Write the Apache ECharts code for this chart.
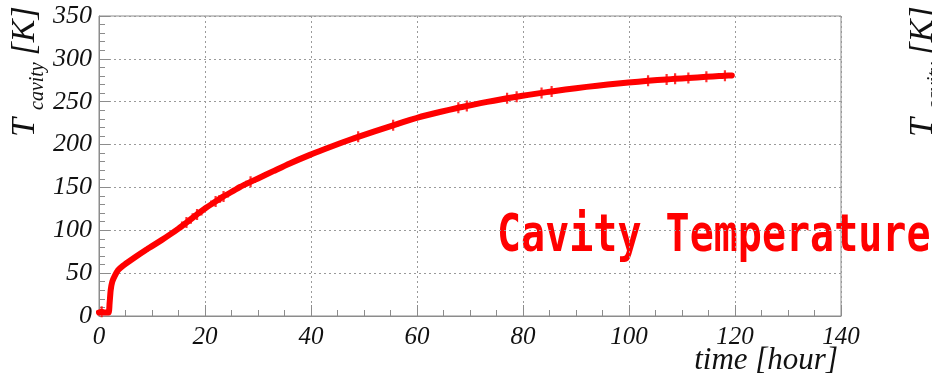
<!DOCTYPE html>
<html>
<head>
<meta charset="utf-8">
<script src="https://cdn.jsdelivr.net/npm/echarts@6/dist/echarts.min.js"></script>
<style>
  html, body { margin: 0; padding: 0; background: #fff; }
  #chart { width: 932px; height: 376px; }
</style>
</head>
<body>
<div id="chart"></div>
<script>
// Cool-down / warm-up record of the cavity
const timeHours = [0, 0.5, 1, 1.8, 2.0, 2.2, 2.5, 3, 3.6, 4.5, 5.5, 7, 8.7, 10, 11.8, 13.5, 15, 16.5, 18.5, 20,
  22, 23.5, 25.5, 26.6, 28.6, 30, 32.9, 36, 39.8, 42.5, 45.5, 48.9, 52, 55.5, 57.5, 59.9, 62, 64.3, 67.8, 69.4,
  72, 74.5, 77, 78.8, 81, 83.5, 85.4, 88, 92, 96, 99.9, 103.6, 107.1, 108.7, 111.2, 114.6, 117, 118.1, 119.4];
const tempK = [4, 5, 4, 4, 15, 30, 40, 47, 53.5, 58.5, 63, 69.5, 76.5, 81.5, 88.5, 95.5, 102, 109, 118.5, 125.5,
  133.5, 139.5, 146.5, 150.5, 156.5, 160.5, 169, 178, 188, 194.5, 201.5, 209, 215.5, 222.5, 226.5, 231, 234.5, 238, 243, 245,
  248.3, 251.2, 254, 255.8, 258, 260.3, 262, 264.2, 267.3, 270, 272.4, 274.4, 276, 276.7, 277.7, 279, 279.9, 280.3, 280.7];
// indices of the samples drawn with a cross marker
const markerIdx = [1, 17, 18, 20, 21, 24, 31, 33, 38, 39, 42, 43, 45, 46, 51, 52, 53, 54, 55, 57];

const xTicks = [0, 20, 40, 60, 80, 100, 120, 140];
const yTicks = [0, 50, 100, 150, 200, 250, 300, 350];

const titleText = 'Cavity Temperature';
const xName = 'time [hour]';

const lineData = timeHours.map((t, i) => [t, tempK[i]]);
const markerData = markerIdx.map(i => [timeHours[i], tempK[i]]);

const serif = '"Liberation Serif", "DejaVu Serif", serif';
const axisGrey = '#8c8c8c';

const chart = echarts.init(document.getElementById('chart'), null, { renderer: 'canvas' });

function yName(dx) {
  const base = { fontFamily: serif, fontStyle: 'italic', fill: '#111', align: 'left', verticalAlign: 'middle' };
  return [
    { type: 'text', x: 25 + dx, y: 137, rotation: Math.PI / 2, style: Object.assign({}, base, { text: 'T', fontSize: 34 }) },
    { type: 'text', x: 38 + dx, y: 110, rotation: Math.PI / 2, style: Object.assign({}, base, { text: 'cavity', fontSize: 20 }) },
    { type: 'text', x: 25 + dx, y: 64, rotation: Math.PI / 2, style: Object.assign({}, base, { text: ' [K]', fontSize: 34 }) }
  ];
}

function tickLabel(ticks, size, margin) {
  return {
    margin: margin,
    fontFamily: serif, fontStyle: 'italic', fontSize: size, color: '#111',
    formatter: v => ticks.includes(v) ? '{i|' + v + '}' : '',
    rich: { i: { fontFamily: serif, fontStyle: 'italic', fontSize: size, color: '#111' } }
  };
}

chart.setOption({
  animation: false,
  backgroundColor: '#fff',
  grid: { left: 99, right: 91, top: 16, bottom: 60, show: true, borderColor: axisGrey, borderWidth: 1, containLabel: false },
  xAxis: {
    type: 'value', min: xTicks[0], max: xTicks[xTicks.length - 1], interval: 20,
    axisLine: { show: true, lineStyle: { color: axisGrey, width: 1 } },
    axisTick: { show: true, inside: true, length: 11, lineStyle: { color: axisGrey } },
    minorTick: { show: true, splitNumber: 4, length: 6, lineStyle: { color: axisGrey } },
    splitLine: { show: true, lineStyle: { color: '#9a9a9a', type: [2, 3], width: 1 } },
    axisLabel: tickLabel(xTicks, 25, 9)
  },
  yAxis: {
    type: 'value', min: yTicks[0], max: yTicks[yTicks.length - 1], interval: 50,
    axisLine: { show: true, lineStyle: { color: axisGrey, width: 1 } },
    axisTick: { show: true, inside: true, length: 11, lineStyle: { color: axisGrey } },
    minorTick: { show: true, splitNumber: 5, length: 6, lineStyle: { color: axisGrey } },
    splitLine: { show: true, lineStyle: { color: '#9a9a9a', type: [2, 3], width: 1 } },
    axisLabel: tickLabel(yTicks, 26, 7)
  },
  series: [
    {
      type: 'line', data: lineData, showSymbol: false, smooth: 0.2,
      lineStyle: { color: '#ff0000', width: 6, join: 'round', cap: 'round' }
    },
    {
      type: 'scatter', data: markerData, symbol: 'path://M4,0h2v10h-2zM0,4h10v2h-10z', symbolSize: 11,
      itemStyle: { color: '#ff0000' }
    }
  ],
  graphic: [
    ...yName(0),
    ...yName(898),
    { type: 'text', x: 838, y: 361, style: { text: xName, fontFamily: serif, fontStyle: 'italic', fontSize: 31,
      fill: '#111', align: 'right', verticalAlign: 'middle' } },
    { type: 'text', x: 497, y: 238, scaleY: 1.27, originX: 0, originY: 0, style: { text: titleText,
      fontFamily: '"DejaVu Sans Mono", monospace', fontWeight: 'bold', fontSize: 40, fill: '#ff0000',
      align: 'left', verticalAlign: 'middle' } }
  ]
});
</script>
</body>
</html>
